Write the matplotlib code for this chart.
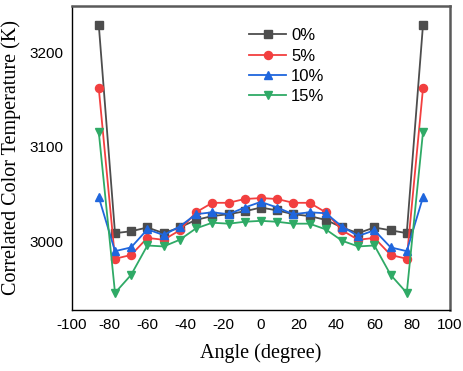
import numpy as np
import matplotlib.pyplot as plt

plt.rcParams['axes.unicode_minus'] = False

# viewing angles (degree), 60/7 step
angle = [-85.7, -77.1, -68.6, -60.0, -51.4, -42.9, -34.3, -25.7, -17.1, -8.6, 0.0,
         8.6, 17.1, 25.7, 34.3, 42.9, 51.4, 60.0, 68.6, 77.1, 85.7]

cct_0 = [3229, 3009, 3011, 3015, 3009, 3015, 3023, 3027, 3029, 3032, 3036,
         3033, 3029, 3027, 3023, 3015, 3009, 3015, 3012, 3009, 3229]
cct_5 = [3162, 2982, 2986, 3004, 3002, 3012, 3031, 3041, 3041, 3045, 3046,
         3045, 3041, 3041, 3031, 3012, 3002, 3004, 2986, 2982, 3162]
cct_10 = [3047, 2990, 2994, 3013, 3007, 3016, 3029, 3031, 3029, 3036, 3042,
          3036, 3029, 3031, 3030, 3016, 3006, 3012, 2994, 2990, 3047]
cct_15 = [3116, 2946, 2965, 2996, 2995, 3002, 3014, 3020, 3019, 3021, 3022,
          3021, 3019, 3019, 3013, 3001, 2995, 2996, 2965, 2946, 3116]

labels = ['0%', '5%', '10%', '15%']
colors = ['#4d4d4d', '#f23f3f', '#1f66dd', '#2faa66']
markers = ['s', 'o', '^', 'v']

fig = plt.figure(figsize=(4.64, 3.71), dpi=100)
ax = fig.add_axes([0.1545, 0.1645, 0.8155, 0.8205])

for y, lab, c, m in zip([cct_0, cct_5, cct_10, cct_15], labels, colors, markers):
    ax.plot(angle, y, color=c, marker=m, markersize=5.8, linewidth=1.3, label=lab)

ax.set_xlim(-100, 100)
ax.set_ylim(2928, 3249)
ax.set_xticks(np.arange(-100, 101, 20))
ax.set_yticks([3000, 3100, 3200])
ax.tick_params(length=0, labelsize=11, pad=6)
for t in ax.get_xticklabels() + ax.get_yticklabels():
    t.set_fontfamily('Liberation Sans')

for s in ['left', 'bottom']:
    ax.spines[s].set_color('black')
    ax.spines[s].set_linewidth(1.0)
for s in ['top', 'right']:
    ax.spines[s].set_color('#5a5a5a')
    ax.spines[s].set_linewidth(1.8)

ax.set_xlabel('Angle (degree)', fontfamily='Liberation Serif', fontsize=14.5, labelpad=8)
ax.set_ylabel('Correlated Color Temperature (K)', fontfamily='Liberation Serif',
              fontsize=14.5, labelpad=6)

leg = ax.legend(loc='upper left', bbox_to_anchor=(0.43, 0.975), frameon=False,
                prop={'family': 'Liberation Sans', 'size': 12},
                handlelength=2.2, handletextpad=0.3, labelspacing=0.32)

fig.savefig('out.png', dpi=100)
